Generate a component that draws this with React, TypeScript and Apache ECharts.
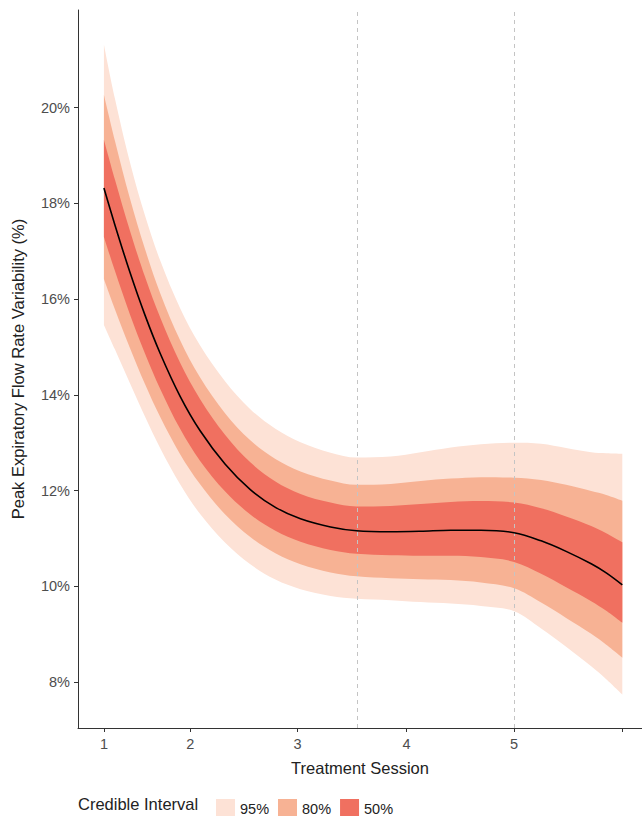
import React, { useEffect, useRef } from "react";
import * as echarts from "echarts";

// x positions of the estimate grid (session scale; session 1 = 1, last session tick = 6)
const xs = [1.0, 1.106, 1.251, 1.397, 1.542, 1.735, 1.928, 2.17, 2.412, 2.654, 2.896, 3.186, 3.437, 3.766, 4.056, 4.346, 4.636, 4.956, 5.217, 5.458, 5.7, 5.845, 6.0];

const median = [18.32, 17.55, 16.56, 15.66, 14.87, 13.97, 13.25, 12.55, 12.02, 11.65, 11.41, 11.24, 11.16, 11.14, 11.15, 11.17, 11.17, 11.12, 10.95, 10.73, 10.47, 10.28, 10.03];

const hi50 = [19.33, 18.5, 17.43, 16.46, 15.62, 14.67, 13.91, 13.16, 12.59, 12.19, 11.93, 11.75, 11.67, 11.68, 11.72, 11.76, 11.78, 11.75, 11.63, 11.46, 11.26, 11.11, 10.92];
const lo50 = [17.3, 16.59, 15.68, 14.86, 14.13, 13.29, 12.62, 11.98, 11.5, 11.16, 10.93, 10.76, 10.68, 10.65, 10.64, 10.64, 10.61, 10.51, 10.26, 9.98, 9.69, 9.49, 9.24];

const hi80 = [20.27, 19.31, 18.1, 17.04, 16.13, 15.14, 14.36, 13.61, 13.05, 12.66, 12.4, 12.21, 12.12, 12.14, 12.2, 12.25, 12.28, 12.27, 12.22, 12.12, 11.99, 11.91, 11.79];
const lo80 = [16.42, 15.79, 14.98, 14.22, 13.54, 12.76, 12.13, 11.5, 11.03, 10.69, 10.46, 10.29, 10.21, 10.17, 10.15, 10.13, 10.08, 9.96, 9.66, 9.34, 9.01, 8.78, 8.51];

const hi95 = [21.32, 20.19, 18.86, 17.74, 16.81, 15.81, 15.03, 14.28, 13.7, 13.29, 13.01, 12.79, 12.69, 12.71, 12.8, 12.9, 12.97, 13.0, 12.98, 12.89, 12.8, 12.78, 12.77];
const lo95 = [15.46, 14.95, 14.24, 13.54, 12.89, 12.13, 11.51, 10.91, 10.46, 10.14, 9.94, 9.8, 9.74, 9.71, 9.67, 9.64, 9.59, 9.48, 9.12, 8.74, 8.33, 8.06, 7.74];

// axis ticks
const sessionTickX = [1.0, 1.832, 2.867, 3.92, 4.955, 6.0];
const sessionLabels = ["1", "2", "3", "4", "5", ""];
const yTicks = [8, 10, 12, 14, 16, 18, 20];
const dashedX = [3.437, 4.955];

const intervalNames = ["95%", "80%", "50%"];
const intervalColors = ["#FDE2D6", "#F7B294", "#F07060"];

const FONT = "'Liberation Sans', Arial, Helvetica, sans-serif";
const SMOOTH = 0.35;

export default function App() {
  const ref = useRef<HTMLDivElement>(null);

  useEffect(() => {
    if (!ref.current) return;
    const chart = echarts.init(ref.current, undefined, { renderer: "svg" });

    const bands = [
      { lo: lo95, hi: hi95 },
      { lo: lo80, hi: hi80 },
      { lo: lo50, hi: hi50 },
    ];

    const series: any[] = [];
    bands.forEach((b, k) => {
      const stackId = "band" + k;
      // value dimension first so that the stack is applied on y
      series.push({
        type: "line",
        name: "_base" + k,
        stack: stackId,
        dimensions: ["v", "x"],
        encode: { x: "x", y: "v" },
        data: xs.map((x, i) => [b.lo[i], x]),
        smooth: SMOOTH,
        symbol: "none",
        silent: true,
        lineStyle: { width: 0, opacity: 0 },
        itemStyle: { color: intervalColors[k] },
        z: 2 + k,
      });
      series.push({
        type: "line",
        name: intervalNames[k],
        stack: stackId,
        dimensions: ["v", "x"],
        encode: { x: "x", y: "v" },
        data: xs.map((x, i) => [b.hi[i] - b.lo[i], x]),
        smooth: SMOOTH,
        symbol: "none",
        silent: true,
        lineStyle: { width: 0, opacity: 0 },
        itemStyle: { color: intervalColors[k] },
        areaStyle: { color: intervalColors[k], opacity: 1 },
        z: 2 + k,
      });
    });

    series.push({
      type: "line",
      name: "Median",
      data: xs.map((x, i) => [x, median[i]]),
      smooth: SMOOTH,
      symbol: "none",
      silent: true,
      lineStyle: { color: "#000000", width: 1.6 },
      itemStyle: { color: "#000000" },
      z: 10,
      markLine: {
        silent: true,
        symbol: ["none", "none"],
        label: { show: false },
        lineStyle: { color: "#C4C4C4", type: [4, 4], width: 1 },
        data: dashedX.map((x) => ({ xAxis: x })),
      },
    });

    chart.setOption({
      animation: false,
      backgroundColor: "#ffffff",
      textStyle: { fontFamily: FONT },
      grid: { left: 78, right: 0, top: 10, bottom: 88, containLabel: false },
      xAxis: {
        type: "value",
        min: 0.75,
        max: 6.19,
        name: "Treatment Session",
        nameLocation: "middle",
        nameGap: 31,
        nameTextStyle: { fontSize: 16.5, color: "#222222", fontFamily: FONT },
        splitLine: { show: false },
        axisLine: { show: true, lineStyle: { color: "#333333", width: 1 } },
        axisTick: {
          show: true,
          length: 4,
          lineStyle: { color: "#333333" },
          customValues: sessionTickX,
        },
        axisLabel: {
          customValues: sessionTickX.slice(0, 5),
          margin: 8,
          fontSize: 14.5,
          color: "#4D4D4D",
          fontFamily: FONT,
          formatter: (v: number) => {
            let best = 0;
            sessionTickX.forEach((t, i) => {
              if (Math.abs(t - v) < Math.abs(sessionTickX[best] - v)) best = i;
            });
            return sessionLabels[best];
          },
        },
      },
      yAxis: {
        type: "value",
        min: 7.04,
        max: 22.04,
        name: "Peak Expiratory Flow Rate Variability (%)",
        nameLocation: "middle",
        nameGap: 52,
        nameTextStyle: { fontSize: 16.5, color: "#222222", fontFamily: FONT },
        splitLine: { show: false },
        axisLine: { show: true, lineStyle: { color: "#333333", width: 1 } },
        axisTick: {
          show: true,
          length: 4,
          lineStyle: { color: "#333333" },
          customValues: yTicks,
        },
        axisLabel: {
          customValues: yTicks,
          margin: 8,
          fontSize: 14.5,
          color: "#4D4D4D",
          fontFamily: FONT,
          formatter: (v: number) => v + "%",
        },
      },
      legend: {
        data: intervalNames,
        left: 211,
        top: 794,
        orient: "horizontal",
        icon: "rect",
        itemWidth: 19,
        itemHeight: 19,
        itemGap: 9,
        selectedMode: false,
        textStyle: { fontSize: 14.5, color: "#222222", fontFamily: FONT },
      },
      graphic: [
        {
          type: "text",
          left: 78,
          top: 795,
          style: {
            text: "Credible Interval",
            fontSize: 16.5,
            fill: "#222222",
            fontFamily: FONT,
          },
        },
      ],
      series,
    });

    return () => {
      chart.dispose();
    };
  }, []);

  return (
    <div
      ref={ref}
      style={{ position: "absolute", left: 0, top: 0, width: 642, height: 816 }}
    />
  );
}
